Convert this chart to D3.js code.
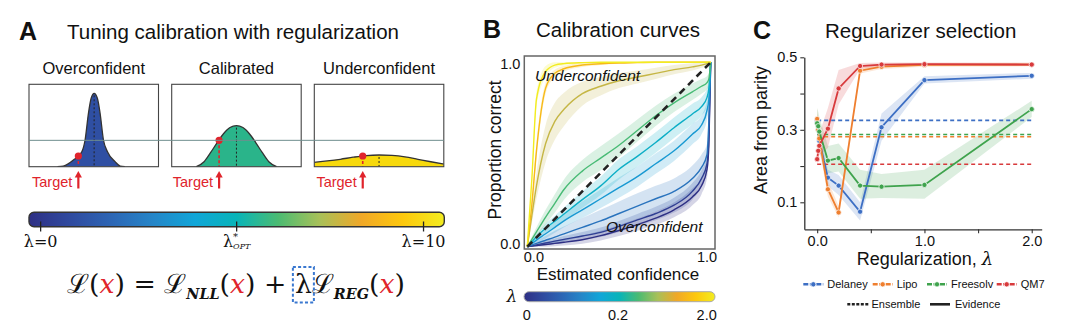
<!DOCTYPE html>
<html>
<head>
<meta charset="utf-8">
<script src="https://cdn.jsdelivr.net/npm/d3@7"></script>
<style>
  body { margin: 0; background: #fff; }
  svg { display: block; }
  text { font-family: "Liberation Sans", Arial, sans-serif; fill: #111; }
  .serif { font-family: "DejaVu Serif", "Liberation Serif", serif; }
</style>
</head>
<body>
<div id="chart"></div>
<script>
// ---------- data ----------
// panel A: illustrative predictive densities (x as fraction of box, height as fraction of box)
const shapeNames = ["Overconfident", "Calibrated", "Underconfident"]
const overPts = [[0.22, 0], [0.265, 0.008], [0.343, 0.081], [0.408, 0.182], [0.433, 0.324], [0.459, 0.648],
  [0.48, 0.83], [0.503, 0.891], [0.528, 0.83], [0.549, 0.648], [0.575, 0.324], [0.606, 0.182], [0.665, 0.061], [0.704, 0.008], [0.74, 0]]
const calPts = [[0.19, 0], [0.25, 0.06], [0.3, 0.17], [0.35, 0.29], [0.4, 0.4], [0.45, 0.475], [0.5, 0.498],
  [0.55, 0.475], [0.6, 0.4], [0.65, 0.29], [0.7, 0.17], [0.75, 0.06], [0.81, 0]]
const underPts = [[0, 0.053], [0.1, 0.07], [0.2, 0.09], [0.3, 0.115], [0.4, 0.135], [0.5, 0.142],
  [0.6, 0.137], [0.7, 0.12], [0.8, 0.09], [0.9, 0.06], [1, 0.033]]
const targetPts = [[0.381, 0.13], [0.366, 0.32], [0.374, 0.13]]
const referenceLevel = 0.32
const lambdaBarTicks = [0.028, 0.5, 0.95]
const lambdaBarLabels = ["λ=0", "λ*", "λ=10"]

// panel B: calibration curves, one per regularization strength
const confGrid = [0, 0.025, 0.05, 0.1, 0.15, 0.2, 0.3, 0.4, 0.5, 0.6, 0.7, 0.8, 0.9, 0.95, 0.98, 0.99, 1]
const curveLambdas = [0, 0.025, 0.1, 0.15, 0.19, 0.6, 1.1, 1.5, 2.0]
const curveMeans = [
  [0, 0.003, 0.006, 0.012, 0.018, 0.024, 0.038, 0.06, 0.088, 0.12, 0.155, 0.2, 0.27, 0.33, 0.42, 0.55, 1],
  [0, 0.005, 0.01, 0.02, 0.03, 0.04, 0.058, 0.078, 0.11, 0.145, 0.18, 0.225, 0.3, 0.37, 0.45, 0.6, 1],
  [0, 0.009, 0.018, 0.035, 0.052, 0.07, 0.105, 0.14, 0.18, 0.22, 0.26, 0.3, 0.37, 0.43, 0.5, 0.68, 1],
  [0, 0.018, 0.036, 0.07, 0.105, 0.14, 0.2, 0.26, 0.32, 0.38, 0.45, 0.52, 0.61, 0.66, 0.74, 0.8, 1],
  [0, 0.027, 0.054, 0.1, 0.138, 0.177, 0.255, 0.33, 0.42, 0.49, 0.565, 0.645, 0.72, 0.76, 0.81, 0.86, 1],
  [0, 0.04, 0.08, 0.16, 0.235, 0.31, 0.41, 0.48, 0.55, 0.63, 0.71, 0.78, 0.84, 0.87, 0.89, 0.91, 1],
  [0, 0.17, 0.33, 0.56, 0.68, 0.745, 0.83, 0.87, 0.9, 0.92, 0.94, 0.96, 0.975, 0.985, 0.993, 0.996, 1],
  [0, 0.23, 0.52, 0.86, 0.94, 0.965, 0.985, 0.992, 0.996, 0.998, 1, 1, 1, 1, 1, 1, 1],
  [0, 0.37, 0.8, 0.95, 0.985, 0.993, 0.998, 1, 1, 1, 1, 1, 1, 1, 1, 1, 1]
]
const curveSpread = [
  [0, 0.005, 0.008, 0.012, 0.015, 0.018, 0.022, 0.026, 0.03, 0.033, 0.036, 0.04, 0.045, 0.045, 0.045, 0.04, 0],
  [0, 0.005, 0.008, 0.012, 0.015, 0.018, 0.022, 0.026, 0.03, 0.033, 0.036, 0.04, 0.045, 0.045, 0.045, 0.04, 0],
  [0, 0.01, 0.015, 0.025, 0.035, 0.04, 0.05, 0.06, 0.065, 0.07, 0.07, 0.07, 0.07, 0.07, 0.06, 0.05, 0],
  [0, 0.01, 0.015, 0.025, 0.03, 0.035, 0.045, 0.05, 0.055, 0.055, 0.055, 0.055, 0.055, 0.05, 0.05, 0.04, 0],
  [0, 0.01, 0.015, 0.025, 0.03, 0.035, 0.045, 0.05, 0.055, 0.055, 0.055, 0.055, 0.055, 0.05, 0.05, 0.04, 0],
  [0, 0.015, 0.025, 0.04, 0.05, 0.055, 0.06, 0.065, 0.065, 0.06, 0.055, 0.05, 0.045, 0.04, 0.035, 0.03, 0],
  [0, 0.04, 0.07, 0.1, 0.1, 0.09, 0.065, 0.05, 0.04, 0.035, 0.03, 0.025, 0.02, 0.015, 0.01, 0.005, 0],
  [0, 0.03, 0.04, 0.03, 0.02, 0.015, 0.01, 0.006, 0.004, 0.002, 0, 0, 0, 0, 0, 0, 0],
  [0, 0.03, 0.04, 0.03, 0.015, 0.01, 0.005, 0, 0, 0, 0, 0, 0, 0, 0, 0, 0]
]
const colorbarTicks = [0, 0.2, 2.0]

// panel C: area from parity vs regularization
const regLambda = [0, 0.01, 0.02, 0.1, 0.2, 0.4, 0.6, 1.0, 2.0]
const datasets = ["Delaney", "Lipo", "Freesolv", "QM7"]
const delaneyArea = [0.325, 0.3, 0.27, 0.168, 0.146, 0.074, 0.307, 0.437, 0.449]
const lipoArea = [0.33, 0.3, 0.276, 0.136, 0.072, 0.463, 0.474, 0.479, 0.48]
const freesolvArea = [0.318, 0.31, 0.295, 0.215, 0.222, 0.146, 0.143, 0.148, 0.357]
const qm7Area = [0.219, 0.242, 0.256, 0.303, 0.414, 0.476, 0.48, 0.481, 0.48]
const delaneyLo = [0.3, 0.27, 0.24, 0.145, 0.12, 0.05, 0.27, 0.428, 0.441]
const delaneyHi = [0.345, 0.33, 0.3, 0.19, 0.175, 0.1, 0.345, 0.448, 0.457]
const lipoLo = [0.3, 0.27, 0.25, 0.115, 0.058, 0.455, 0.468, 0.474, 0.475]
const lipoHi = [0.36, 0.33, 0.3, 0.16, 0.09, 0.471, 0.48, 0.484, 0.485]
const freesolvLo = [0.28, 0.27, 0.26, 0.18, 0.185, 0.11, 0.112, 0.11, 0.335]
const freesolvHi = [0.36, 0.35, 0.335, 0.255, 0.262, 0.19, 0.178, 0.19, 0.38]
const qm7Lo = [0.2, 0.22, 0.23, 0.25, 0.37, 0.468, 0.474, 0.476, 0.476]
const qm7Hi = [0.24, 0.27, 0.29, 0.36, 0.465, 0.484, 0.486, 0.486, 0.485]
const ensembleArea = [0.326, 0.281, 0.287, 0.205]

// ---------- styling ----------
const RED = "#e0242c"
const shapeFill = ["#2f4fa3", "#2ab48a", "#f7d90c"]
const datasetColor = ["#3d6fc4", "#ef7f2f", "#3fa34d", "#d83a3c"]
const cmapStops = ["#2e2f84", "#2f4a9f", "#2c66b5", "#2586c8", "#10a6d8", "#08b4b8", "#4bbb72", "#a8c058", "#f0a828", "#fdc80c", "#f2ec20"]
const cmap = d3.scaleLinear()
  .domain(cmapStops.map((c, i) => i / (cmapStops.length - 1)))
  .range(cmapStops)
const lambdaToFrac = d3.scaleLinear().domain([0, 0.2, 2.0]).range([0, 0.48, 1])

const svg = d3.select("#chart").append("svg")
  .attr("width", 1080)
  .attr("height", 334)
svg.append("rect").attr("width", 1080).attr("height", 334).attr("fill", "#fff")

const defs = svg.append("defs")
function gradient(id) {
  const g = defs.append("linearGradient").attr("id", id)
  d3.range(0, 1.0001, 0.05).forEach(t => {
    g.append("stop").attr("offset", t).attr("stop-color", cmap(t))
  })
}
gradient("cmapA")
gradient("cmapB")

function panelTitle(letter, lx, tx, y, title) {
  svg.append("text").attr("x", lx).attr("y", y)
    .attr("font-size", 25).attr("font-weight", "bold").text(letter)
  svg.append("text").attr("x", tx).attr("y", y - 1)
    .attr("font-size", 20.5).text(title)
}

// ---------- panel A ----------
panelTitle("A", 19, 67, 40, "Tuning calibration with regularization")

const boxLeft = [29, 171.7, 314.3]
const boxW = 129.5, boxTop = 84.3, boxBottom = 166.7
const shapes = [overPts, calPts, underPts]
const by = d3.scaleLinear().domain([0, 1]).range([boxBottom, boxTop])

shapes.forEach((pts, i) => {
  const bx = d3.scaleLinear().domain([0, 1]).range([boxLeft[i], boxLeft[i] + boxW])
  const g = svg.append("g")
  defs.append("clipPath").attr("id", "box" + i)
    .append("rect").attr("x", boxLeft[i]).attr("y", boxTop).attr("width", boxW).attr("height", boxBottom - boxTop)

  svg.append("text").attr("x", boxLeft[i] + boxW / 2).attr("y", 73.5)
    .attr("text-anchor", "middle").attr("font-size", 16.5).text(shapeNames[i])

  const area = d3.area().x(d => bx(d[0])).y0(boxBottom).y1(d => by(d[1])).curve(d3.curveMonotoneX)
  const line = d3.line().x(d => bx(d[0])).y(d => by(d[1])).curve(d3.curveMonotoneX)
  const inner = g.append("g").attr("clip-path", `url(#box${i})`)
  inner.append("path").datum(pts).attr("d", area).attr("fill", shapeFill[i])
  inner.append("path").datum(pts).attr("d", line).attr("fill", "none").attr("stroke", "#333").attr("stroke-width", 1.3)

  // mean marker
  const peak = d3.greatest(pts, d => d[1])
  inner.append("line").attr("x1", bx(peak[0])).attr("x2", bx(peak[0]))
    .attr("y1", by(peak[1]) + 2).attr("y2", boxBottom)
    .attr("stroke", "#222").attr("stroke-width", 1).attr("stroke-dasharray", "2,2")

  // target
  const tp = targetPts[i]
  inner.append("line").attr("x1", bx(tp[0])).attr("x2", bx(tp[0]))
    .attr("y1", by(tp[1])).attr("y2", boxBottom)
    .attr("stroke", RED).attr("stroke-width", 1.6).attr("stroke-dasharray", "3,2")

  g.append("rect").attr("x", boxLeft[i]).attr("y", boxTop).attr("width", boxW).attr("height", boxBottom - boxTop)
    .attr("fill", "none").attr("stroke", "#444").attr("stroke-width", 1.1)

  g.append("circle").attr("cx", bx(tp[0])).attr("cy", by(tp[1])).attr("r", 3.6).attr("fill", RED)

  svg.append("text").attr("x", bx(tp[0]) - 6).attr("y", 186.5)
    .attr("text-anchor", "end").attr("font-size", 14.5).style("fill", RED).text("Target")
  svg.append("line").attr("x1", bx(tp[0])).attr("x2", bx(tp[0])).attr("y1", 188.5).attr("y2", 176)
    .attr("stroke", RED).attr("stroke-width", 2.2)
  svg.append("path")
    .attr("d", `M${bx(tp[0]) - 3.6},${177.5} L${bx(tp[0])},${171} L${bx(tp[0]) + 3.6},${177.5} Z`)
    .attr("fill", RED)
})

// reference level across all three boxes
svg.append("line").attr("x1", boxLeft[0]).attr("x2", boxLeft[2] + boxW)
  .attr("y1", by(referenceLevel)).attr("y2", by(referenceLevel))
  .attr("stroke", "#6f8f8f").attr("stroke-width", 1)

// lambda colorbar
const barA = d3.scaleLinear().domain([0, 1]).range([29, 444.3])
svg.append("rect").attr("x", 29).attr("y", 212.3).attr("width", 415.3).attr("height", 14.4)
  .attr("rx", 5).attr("fill", "url(#cmapA)").attr("stroke", "#333").attr("stroke-width", 1.4)
lambdaBarTicks.forEach((t, i) => {
  svg.append("line").attr("x1", barA(t)).attr("x2", barA(t)).attr("y1", 221.5).attr("y2", 231.5)
    .attr("stroke", "#222").attr("stroke-width", 1.3)
  const lab = svg.append("text").attr("class", "serif").attr("x", barA(t)).attr("y", 247)
    .attr("text-anchor", "middle").attr("font-size", 16)
  if (i === 1) {
    lab.append("tspan").text("λ")
    lab.append("tspan").attr("font-size", 10).attr("dy", -7).text("*")
    lab.append("tspan").attr("font-size", 8).attr("dx", -5).attr("dy", 9).attr("font-style", "italic").text("OPT")
  } else {
    lab.text(lambdaBarLabels[i])
  }
})

// loss equation
const eqParts = [
  { t: "ℒ" }, { t: "(" }, { t: "x", red: true }, { t: ")" }, { t: " = " },
  { t: "ℒ" }, { t: "NLL", sub: true }, { t: "(" }, { t: "x", red: true }, { t: ")" }, { t: " + " },
  { t: "λ", lam: true }, { t: "ℒ" }, { t: "REG", sub: true }, { t: "(" }, { t: "x", red: true }, { t: ")" }
]
const eq = svg.append("text").attr("class", "serif").attr("x", 67).attr("y", 293).attr("font-size", 26)
let shifted = false
let lamSpan = null
eqParts.forEach(p => {
  const s = eq.append("tspan").text(p.t)
  if (p.sub) { s.attr("font-size", 14).attr("font-style", "italic").attr("font-weight", "bold").attr("dy", 6); shifted = true }
  else if (shifted) { s.attr("dy", -6); shifted = false }
  if (p.red) s.attr("font-style", "italic").style("fill", RED)
  if (p.lam) lamSpan = s
})
// fit equation to its slot
const eqLen = eq.node().getComputedTextLength()
const k = 340 / eqLen
eq.attr("transform", `translate(67,293) scale(${k}) translate(-67,-293)`)
const lb = lamSpan.node().getBBox()
svg.append("rect")
  .attr("x", 67 + (lb.x - 67) * k - 2).attr("y", 267)
  .attr("width", lb.width * k + 4).attr("height", 35.5)
  .attr("fill", "none").attr("stroke", "#3a78d0").attr("stroke-width", 2).attr("stroke-dasharray", "3,2.2")

// ---------- panel B ----------
panelTitle("B", 483, 536, 37.5, "Calibration curves")

const xB = d3.scaleLinear().domain([0, 1]).range([527.3, 710.7])
const yB = d3.scaleLinear().domain([0, 1]).range([246.7, 62.3])
const gB = svg.append("g")
const clampB = v => Math.max(0, Math.min(1, v))

const bandB = d3.area()
  .x(d => xB(d.c))
  .y0(d => yB(clampB(d.m - d.s)))
  .y1(d => yB(clampB(d.m + d.s)))
  .curve(d3.curveMonotoneX)
const lineB = d3.line().x(d => xB(d.c)).y(d => yB(d.m)).curve(d3.curveMonotoneX)

const curves = curveLambdas.map((lam, i) => ({
  lam,
  pts: confGrid.map((c, j) => ({ c, m: curveMeans[i][j], s: curveSpread[i][j] }))
}))

gB.selectAll(".band").data(curves).enter().append("path")
  .attr("class", "band")
  .attr("d", d => bandB(d.pts))
  .attr("fill", d => cmap(lambdaToFrac(d.lam)))
  .attr("fill-opacity", 0.2)

gB.selectAll(".curve").data(curves).enter().append("path")
  .attr("class", "curve")
  .attr("d", d => lineB(d.pts))
  .attr("fill", "none")
  .attr("stroke", d => cmap(lambdaToFrac(d.lam)))
  .attr("stroke-width", 1.4)

gB.append("line")
  .attr("x1", xB(0)).attr("y1", yB(0)).attr("x2", xB(1)).attr("y2", yB(1))
  .attr("stroke", "#222").attr("stroke-width", 2.6).attr("stroke-dasharray", "7,5")

svg.append("rect").attr("x", 524.3).attr("y", 56).attr("width", 190.7).attr("height", 193)
  .attr("fill", "none").attr("stroke", "#666").attr("stroke-width", 1.5)

svg.append("text").attr("x", 535).attr("y", 81).attr("font-size", 15.5).attr("font-style", "italic").text("Underconfident")
svg.append("text").attr("x", 606).attr("y", 232).attr("font-size", 15.5).attr("font-style", "italic").text("Overconfident")

const yAxisB = svg.append("g").attr("transform", "translate(524.3,0)")
  .call(d3.axisLeft(yB).tickValues([0, 1]).tickFormat(d3.format(".1f")).tickSize(0).tickPadding(4))
yAxisB.select(".domain").remove()
yAxisB.selectAll("text").attr("font-size", 14.5).attr("font-family", null).attr("dy", (d, i) => i === 0 ? "0.1em" : "0.4em")

const xAxisB = svg.append("g").attr("transform", "translate(0,249)")
  .call(d3.axisBottom(xB).tickValues([0, 1]).tickFormat(d3.format(".1f")).tickSize(0).tickPadding(3))
xAxisB.select(".domain").remove()
xAxisB.selectAll("text").attr("font-size", 14.5).attr("font-family", null)
  .attr("text-anchor", (d, i) => i === 0 ? "start" : "end")
  .attr("dx", (d, i) => i === 0 ? -4 : 6)

svg.append("text").attr("x", 618).attr("y", 280).attr("text-anchor", "middle").attr("font-size", 17).text("Estimated confidence")
svg.append("text").attr("transform", "translate(501,150) rotate(-90)")
  .attr("text-anchor", "middle").attr("font-size", 17.5).text("Proportion correct")

// lambda colorbar for the curves
const barB = d3.scaleLinear().domain([0, 0.2, 2.0]).range([526.7, 618, 706.7])
svg.append("rect").attr("x", 524).attr("y", 291.7).attr("width", 191).attr("height", 10)
  .attr("rx", 5).attr("fill", "url(#cmapB)").attr("stroke", "#aaa").attr("stroke-width", 1)
svg.append("text").attr("class", "serif").attr("x", 512).attr("y", 302).attr("text-anchor", "middle")
  .attr("font-size", 17).attr("font-style", "italic").text("λ")
colorbarTicks.forEach(t => {
  svg.append("text").attr("x", barB(t)).attr("y", 320).attr("text-anchor", "middle")
    .attr("font-size", 14.5).text(t === 0 ? "0" : d3.format(".1f")(t))
})

// ---------- panel C ----------
panelTitle("C", 753, 825, 38.5, "Regularizer selection")

const xC = d3.scaleLinear().domain([-0.12, 2.093]).range([804.3, 1041.7])
const yC = d3.scaleLinear().domain([0.0255, 0.5]).range([229.3, 57.3])
const gC = svg.append("g")

const areaSeries = [delaneyArea, lipoArea, freesolvArea, qm7Area]
const loSeries = [delaneyLo, lipoLo, freesolvLo, qm7Lo]
const hiSeries = [delaneyHi, lipoHi, freesolvHi, qm7Hi]
const series = datasets.map((name, i) => ({
  name, color: datasetColor[i], ens: ensembleArea[i],
  pts: regLambda.map((l, j) => ({ l, v: areaSeries[i][j], lo: loSeries[i][j], hi: hiSeries[i][j] }))
}))

const bandC = d3.area().x(d => xC(d.l)).y0(d => yC(d.lo)).y1(d => yC(d.hi))
const lineC = d3.line().x(d => xC(d.l)).y(d => yC(d.v))

gC.selectAll(".bandC").data(series).enter().append("path")
  .attr("d", d => bandC(d.pts)).attr("fill", d => d.color).attr("fill-opacity", 0.18)

gC.selectAll(".ens").data(series).enter().append("line")
  .attr("x1", xC(0)).attr("x2", xC(2))
  .attr("y1", d => yC(d.ens)).attr("y2", d => yC(d.ens))
  .attr("stroke", d => d.color).attr("stroke-width", 1.6).attr("stroke-dasharray", "4,3")

series.forEach(s => {
  gC.append("path").datum(s.pts).attr("d", lineC)
    .attr("fill", "none").attr("stroke", s.color).attr("stroke-width", 1.8)
  gC.selectAll(null).data(s.pts).enter().append("circle")
    .attr("cx", d => xC(d.l)).attr("cy", d => yC(d.v)).attr("r", 2.6)
    .attr("fill", s.color).attr("stroke", "#fff").attr("stroke-width", 0.7)
})

const yAxisC = svg.append("g").attr("transform", "translate(804.3,0)")
  .call(d3.axisLeft(yC).tickValues([0.1, 0.2, 0.3, 0.4, 0.5])
    .tickFormat((d, i) => i % 2 === 0 ? d3.format(".1f")(d) : "")
    .tickSize(4).tickSizeOuter(0).tickPadding(3))
const xAxisC = svg.append("g").attr("transform", "translate(0,229.3)")
  .call(d3.axisBottom(xC).tickValues([0, 0.5, 1, 1.5, 2])
    .tickFormat((d, i) => i % 2 === 0 ? d3.format(".1f")(d) : "")
    .tickSize(4).tickSizeOuter(0).tickPadding(2))
;[yAxisC, xAxisC].forEach(ax => {
  ax.select(".domain").attr("stroke", "#333").attr("stroke-width", 1.3)
  ax.selectAll(".tick line").attr("stroke", "#333").attr("stroke-width", 1.1)
  ax.selectAll("text").attr("font-size", 14.5).attr("font-family", null).attr("fill", "#111")
})

svg.append("text").attr("transform", "translate(767,130) rotate(-90)")
  .attr("text-anchor", "middle").attr("font-size", 18).text("Area from parity")
const xlab = svg.append("text").attr("x", 925).attr("y", 265).attr("text-anchor", "middle").attr("font-size", 18)
xlab.append("tspan").text("Regularization, ")
xlab.append("tspan").attr("class", "serif").attr("font-style", "italic").text("λ")

// legend
const legRow1 = [827.3, 896.7, 951, 1020.7]
series.forEach((s, i) => {
  const lx = legRow1[i]
  svg.append("line").attr("x1", lx - 24).attr("x2", lx - 4).attr("y1", 284.3).attr("y2", 284.3)
    .attr("stroke", s.color).attr("stroke-width", 2.4).attr("stroke-dasharray", "5,1.5")
  svg.append("circle").attr("cx", lx - 14).attr("cy", 284.3).attr("r", 2.6).attr("fill", s.color)
    .attr("stroke", "#fff").attr("stroke-width", 0.7)
  svg.append("text").attr("x", lx).attr("y", 288).attr("font-size", 11).text(s.name)
})
svg.append("line").attr("x1", 847.3).attr("x2", 868.3).attr("y1", 304.3).attr("y2", 304.3)
  .attr("stroke", "#222").attr("stroke-width", 2.6).attr("stroke-dasharray", "3,1.5")
svg.append("text").attr("x", 871.5).attr("y", 308).attr("font-size", 11).text("Ensemble")
svg.append("line").attr("x1", 930).attr("x2", 950).attr("y1", 304.3).attr("y2", 304.3)
  .attr("stroke", "#222").attr("stroke-width", 2.6)
svg.append("text").attr("x", 955).attr("y", 308).attr("font-size", 11).text("Evidence")
</script>
</body>
</html>
